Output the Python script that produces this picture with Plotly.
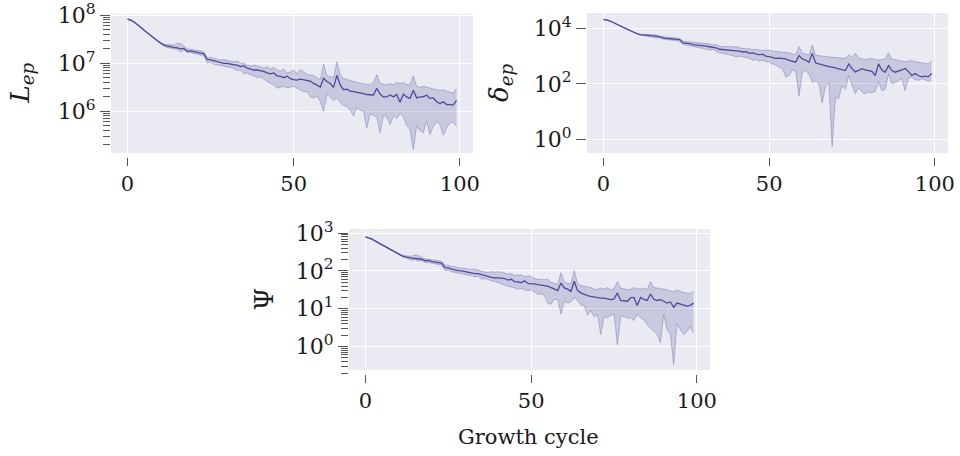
import plotly.graph_objects as go

cycles = list(range(100))

# ---- L_ep (log10 values) ----
L_mean_log10 = [7.92, 7.90, 7.86, 7.81, 7.75, 7.69, 7.63, 7.57, 7.52, 7.47, 7.42, 7.38, 7.36,
                7.34, 7.33, 7.32, 7.30, 7.31, 7.25, 7.26, 7.24, 7.23, 7.21,
                7.20, 7.08, 7.07, 7.05, 7.03, 7.02, 7.00, 7.00,
                6.98, 6.97, 6.96, 6.93, 6.95, 6.90, 6.88, 6.86, 6.86, 6.85,
                6.83, 6.80, 6.78, 6.80, 6.74, 6.73, 6.70, 6.73, 6.68, 6.66,
                6.65, 6.67, 6.66, 6.65, 6.63, 6.58, 6.55, 6.50, 6.69, 6.62,
                6.58, 6.50, 6.75, 6.55, 6.45, 6.46, 6.42, 6.41, 6.40, 6.38,
                6.37, 6.35, 6.34, 6.34, 6.48, 6.36, 6.30, 6.30, 6.34, 6.30,
                6.35, 6.19, 6.36, 6.30, 6.27, 6.44, 6.28, 6.30, 6.30, 6.34,
                6.27, 6.28, 6.20, 6.16, 6.20, 6.14, 6.14, 6.13, 6.23]
L_upper_log10 = [7.93, 7.91, 7.87, 7.82, 7.76, 7.70, 7.64, 7.58, 7.53, 7.48, 7.43, 7.40, 7.39,
                 7.38, 7.38, 7.42, 7.41, 7.36, 7.30, 7.29, 7.28, 7.27, 7.26,
                 7.23, 7.12, 7.12, 7.10, 7.09, 7.07, 7.08, 7.06,
                 7.05, 7.03, 7.05, 7.00, 7.00, 6.96, 6.94, 6.96, 6.95, 6.92,
                 6.90, 6.93, 6.88, 6.92, 6.86, 6.84, 6.88, 6.80, 6.82, 6.86,
                 6.78, 6.87, 6.82, 6.77, 6.75, 6.75, 6.70, 6.66, 6.98, 6.74,
                 6.72, 6.70, 7.03, 6.76, 6.68, 6.66, 6.64, 6.62, 6.60, 6.58,
                 6.57, 6.56, 6.55, 6.60, 6.76, 6.58, 6.56, 6.55, 6.58, 6.55,
                 6.60, 6.58, 6.60, 6.56, 6.55, 6.74, 6.52, 6.50, 6.52, 6.50,
                 6.48, 6.47, 6.45, 6.44, 6.45, 6.42, 6.40, 6.38, 6.48]
L_lower_log10 = [7.91, 7.89, 7.85, 7.80, 7.74, 7.68, 7.62, 7.56, 7.51, 7.46, 7.41, 7.36, 7.33,
                 7.32, 7.30, 7.28, 7.24, 7.28, 7.22, 7.23, 7.20, 7.19, 7.17,
                 7.15, 7.00, 7.02, 6.98, 6.97, 6.96, 6.94, 6.92,
                 6.92, 6.88, 6.85, 6.86, 6.78, 6.80, 6.76, 6.74, 6.70, 6.72,
                 6.66, 6.62, 6.58, 6.55, 6.48, 6.50, 6.52, 6.49, 6.50, 6.52,
                 6.48, 6.45, 6.40, 6.42, 6.30, 6.28, 6.32, 6.20, 6.00, 6.35,
                 6.30, 6.22, 6.28, 6.18, 6.12, 6.10, 6.02, 5.90, 6.08, 6.02,
                 6.00, 5.65, 5.95, 5.92, 5.88, 5.55, 5.92, 5.88, 5.72, 5.90,
                 5.85, 5.95, 5.88, 5.70, 5.62, 5.20, 5.70, 5.60, 5.55, 5.80,
                 5.52, 5.68, 5.78, 5.72, 5.50, 5.65, 5.75, 5.78, 5.68]

# ---- delta_ep (log10 values) ----
D_mean_log10 = [4.32, 4.31, 4.27, 4.22, 4.16, 4.10, 4.04, 3.98, 3.92, 3.87, 3.82, 3.78, 3.76,
                3.76, 3.74, 3.73, 3.72, 3.70, 3.65, 3.64, 3.63, 3.62, 3.61,
                3.60, 3.48, 3.47, 3.45, 3.42, 3.41, 3.40, 3.38,
                3.36, 3.34, 3.33, 3.30, 3.25, 3.24, 3.22, 3.22, 3.21, 3.19,
                3.18, 3.15, 3.16, 3.10, 3.12, 3.08, 3.05, 3.07, 3.00, 2.98,
                2.95, 2.92, 2.93, 2.91, 2.90, 2.85, 2.82, 2.78, 3.02, 2.90,
                2.86, 2.78, 3.10, 2.76, 2.72, 2.68, 2.66, 2.62, 2.60, 2.57,
                2.55, 2.52, 2.48, 2.72, 2.55, 2.43, 2.50, 2.55, 2.50, 2.48,
                2.45, 2.30, 2.72, 2.50, 2.42, 2.66, 2.48, 2.42, 2.45, 2.50,
                2.55, 2.45, 2.30, 2.37, 2.30, 2.25, 2.28, 2.25, 2.37]
D_upper_log10 = [4.33, 4.32, 4.28, 4.23, 4.17, 4.11, 4.05, 3.99, 3.93, 3.88, 3.83, 3.79, 3.78,
                 3.79, 3.78, 3.78, 3.77, 3.73, 3.70, 3.69, 3.68, 3.67, 3.66,
                 3.64, 3.54, 3.53, 3.52, 3.50, 3.48, 3.47, 3.46,
                 3.45, 3.44, 3.40, 3.42, 3.36, 3.35, 3.34, 3.36, 3.33, 3.35,
                 3.30, 3.28, 3.26, 3.27, 3.24, 3.25, 3.22, 3.20, 3.22, 3.22,
                 3.18, 3.17, 3.14, 3.15, 3.12, 3.12, 3.08, 3.06, 3.34, 3.10,
                 3.08, 3.04, 3.40, 3.05, 3.02, 3.00, 3.00, 2.98, 2.96, 2.95,
                 2.94, 2.92, 2.92, 3.05, 2.95, 3.10, 2.94, 2.90, 2.88, 2.90,
                 2.92, 2.88, 2.86, 2.88, 2.90, 3.12, 2.90, 2.88, 2.85, 2.82,
                 2.80, 2.82, 2.84, 2.80, 2.78, 2.76, 2.75, 2.72, 2.82]
D_lower_log10 = [4.31, 4.30, 4.26, 4.21, 4.15, 4.09, 4.03, 3.97, 3.91, 3.86, 3.81, 3.77, 3.74,
                 3.72, 3.70, 3.68, 3.66, 3.67, 3.62, 3.60, 3.59, 3.58, 3.56,
                 3.54, 3.42, 3.40, 3.38, 3.35, 3.34, 3.32, 3.28,
                 3.25, 3.22, 3.24, 3.18, 3.12, 3.10, 3.08, 3.06, 3.02, 2.98,
                 3.00, 2.98, 2.95, 2.92, 2.85, 2.88, 2.82, 2.86, 2.80, 2.79,
                 2.72, 2.68, 2.60, 2.55, 2.25, 2.30, 2.50, 2.45, 1.56, 2.40,
                 2.50, 2.35, 2.05, 2.10, 2.00, 1.30, 1.90, 2.05, -0.27, 1.50,
                 1.47, 1.95, 1.80, 2.30, 1.95, 1.65, 1.85, 1.70, 1.63, 1.70,
                 1.68, 1.72, 2.07, 1.75, 1.80, 2.35, 2.00, 2.05, 2.10, 2.20,
                 1.75, 2.20, 2.25, 2.15, 2.12, 2.18, 2.15, 2.10, 2.13]

# ---- Psi (log10 values) ----
P_mean_log10 = [2.90, 2.88, 2.84, 2.79, 2.74, 2.69, 2.64, 2.59, 2.54, 2.49, 2.44, 2.40, 2.37,
                2.35, 2.34, 2.33, 2.32, 2.31, 2.27, 2.28, 2.25, 2.24, 2.22,
                2.21, 2.09, 2.08, 2.05, 2.02, 2.01, 2.00, 1.98,
                1.97, 1.95, 1.93, 1.93, 1.90, 1.87, 1.84, 1.83, 1.82, 1.82,
                1.81, 1.80, 1.76, 1.78, 1.72, 1.71, 1.69, 1.74, 1.67, 1.66,
                1.66, 1.64, 1.63, 1.61, 1.60, 1.56, 1.52, 1.48, 1.68, 1.55,
                1.52, 1.46, 1.73, 1.48, 1.42, 1.38, 1.35, 1.33, 1.31, 1.29,
                1.28, 1.28, 1.26, 1.24, 1.26, 1.42, 1.22, 1.21, 1.20, 1.29,
                1.30, 1.09, 1.30, 1.25, 1.22, 1.39, 1.25, 1.22, 1.24, 1.20,
                1.15, 1.18, 1.04, 1.15, 1.13, 1.10, 1.07, 1.09, 1.15]
P_upper_log10 = [2.91, 2.89, 2.85, 2.80, 2.75, 2.70, 2.65, 2.60, 2.55, 2.50, 2.45, 2.42, 2.40,
                 2.40, 2.39, 2.42, 2.41, 2.36, 2.32, 2.31, 2.30, 2.29, 2.28,
                 2.26, 2.16, 2.14, 2.13, 2.11, 2.09, 2.08, 2.07,
                 2.06, 2.04, 2.05, 2.02, 1.98, 1.97, 1.96, 1.98, 1.97, 1.98,
                 1.97, 1.94, 1.92, 1.93, 1.88, 1.89, 1.90, 1.85, 1.87, 1.86,
                 1.80, 1.78, 1.77, 1.77, 1.78, 1.70, 1.68, 1.64, 1.95, 1.70,
                 1.68, 1.66, 2.01, 1.68, 1.62, 1.60, 1.60, 1.56, 1.52, 1.51,
                 1.55, 1.52, 1.56, 1.50, 1.53, 1.72, 1.55, 1.52, 1.50, 1.52,
                 1.56, 1.53, 1.52, 1.55, 1.50, 1.72, 1.56, 1.55, 1.54, 1.52,
                 1.50, 1.47, 1.45, 1.50, 1.46, 1.43, 1.42, 1.40, 1.48]
P_lower_log10 = [2.89, 2.87, 2.83, 2.78, 2.73, 2.68, 2.63, 2.58, 2.53, 2.48, 2.43, 2.38, 2.35,
                 2.32, 2.28, 2.30, 2.26, 2.28, 2.22, 2.23, 2.20, 2.19, 2.17,
                 2.15, 2.01, 2.02, 1.98, 1.96, 1.95, 1.93, 1.90,
                 1.89, 1.88, 1.84, 1.86, 1.78, 1.80, 1.76, 1.74, 1.72, 1.70,
                 1.66, 1.62, 1.60, 1.58, 1.55, 1.52, 1.54, 1.50, 1.48, 1.50,
                 1.44, 1.38, 1.40, 1.35, 1.15, 1.12, 1.25, 1.24, 0.86, 1.20,
                 1.15, 1.18, 1.30, 1.22, 1.10, 1.08, 0.83, 0.95, 0.78, 0.85,
                 0.32, 0.80, 0.76, 0.83, 0.85, 0.05, 0.78, 0.80, 0.75, 0.76,
                 0.69, 0.85, 0.76, 0.70, 0.58, 0.49, 0.40, 0.32, 0.10, 0.85,
                 0.45, 0.32, -0.48, 0.60, 0.45, 0.32, 0.40, 0.52, 0.36]

x_ticks = [0, 50, 100]
L_tick_exponents = [6, 7, 8]
D_tick_exponents = [0, 2, 4]
P_tick_exponents = [0, 1, 2, 3]
y_labels = ["<i>L</i><sub><i>ep</i></sub>", "<i>δ</i><sub><i>ep</i></sub>", "Ψ"]
x_label = "Growth cycle"

W, H = 960, 456
FONT = "DejaVu Serif"
TXT = "#1a1a1a"
LINE = "#4d4a9a"
FILL = "rgba(77,74,154,0.21)"
EDGE = "rgba(77,74,154,0.40)"
BG = "#EAEAF2"
TICKC = "#555555"

def pv(v):
    return [10 ** a for a in v]

panels = [
    dict(l=111, r=473, t=14, gb=153, ab=157, yr=[5.048, 8.027], exps=L_tick_exponents, minor=True, lx=21,
         mean=L_mean_log10, up=L_upper_log10, lo=L_lower_log10),
    dict(l=587, r=948, t=13, gb=153, ab=157, yr=[-0.646, 4.56], exps=D_tick_exponents, minor=False, lx=500,
         mean=D_mean_log10, up=D_upper_log10, lo=D_lower_log10),
    dict(l=349, r=710, t=229, gb=370, ab=374, yr=[-0.725, 3.11], exps=P_tick_exponents, minor=True, lx=263,
         mean=P_mean_log10, up=P_upper_log10, lo=P_lower_log10),
]

fig = go.Figure()
layout = dict(width=W, height=H, margin=dict(l=0, r=0, t=0, b=0, autoexpand=False),
              paper_bgcolor="white", plot_bgcolor="rgba(0,0,0,0)",
              showlegend=False, font=dict(family=FONT, size=20, color=TXT))
shapes = []
annotations = []

for k, p in enumerate(panels):
    sfx = "" if k == 0 else str(k + 1)
    xa, ya = "x" + sfx, "y" + sfx
    fig.add_trace(go.Scatter(x=cycles, y=pv(p["up"]), mode="lines", line=dict(color=EDGE, width=0.8),
                             xaxis=xa, yaxis=ya, hoverinfo="skip"))
    fig.add_trace(go.Scatter(x=cycles, y=pv(p["lo"]), mode="lines", line=dict(color=EDGE, width=0.8),
                             fill="tonexty", fillcolor=FILL, xaxis=xa, yaxis=ya, hoverinfo="skip"))
    fig.add_trace(go.Scatter(x=cycles, y=pv(p["mean"]), mode="lines", line=dict(color=LINE, width=1.3),
                             xaxis=xa, yaxis=ya))
    layout["xaxis" + sfx] = dict(
        domain=[p["l"] / W, p["r"] / W], anchor=ya, range=[-4.95, 103.95], automargin=False,
        ticklabeloverflow="allow",
        tickvals=x_ticks, ticks="outside", ticklen=8, tickwidth=1, tickcolor=TICKC,
        showgrid=True, gridcolor="white", gridwidth=1.2, zeroline=False, showline=False,
        tickfont=dict(family=FONT, size=21, color=TXT))
    yax = dict(
        domain=[1 - p["ab"] / H, 1 - p["t"] / H], anchor=xa, type="log", range=p["yr"], automargin=False,
        ticklabeloverflow="allow",
        tickvals=[10 ** e for e in p["exps"]], ticktext=["10<sup>%d</sup>" % e for e in p["exps"]],
        ticks="outside", ticklen=10, tickwidth=1,
        tickcolor=TICKC, showgrid=True, gridcolor="white", gridwidth=1.2, zeroline=False,
        showline=False, tickfont=dict(family=FONT, size=22, color=TXT))
    if p["minor"]:
        yax["minor"] = dict(ticks="outside", ticklen=7, tickwidth=1, tickcolor=TICKC,
                            dtick="D1", showgrid=False)
    layout["yaxis" + sfx] = yax
    shapes.append(dict(type="rect", xref="paper", yref="paper",
                       x0=p["l"] / W, x1=p["r"] / W, y0=1 - p["gb"] / H, y1=1 - p["t"] / H,
                       fillcolor=BG, line=dict(width=0), layer="below"))
    annotations.append(dict(text=y_labels[k], x=p["lx"] / W, y=1 - (p["t"] + p["gb"]) / 2 / H,
                            xref="paper", yref="paper", showarrow=False, textangle=-90,
                            xanchor="center", yanchor="middle",
                            font=dict(family=FONT, size=26, color=TXT)))

annotations.append(dict(text=x_label, x=528 / W, y=1 - 437 / H, xref="paper", yref="paper",
                        showarrow=False, xanchor="center", yanchor="middle",
                        font=dict(family=FONT, size=21, color=TXT)))

layout["shapes"] = shapes
layout["annotations"] = annotations
fig.update_layout(**layout)
fig.write_html("out.html")
